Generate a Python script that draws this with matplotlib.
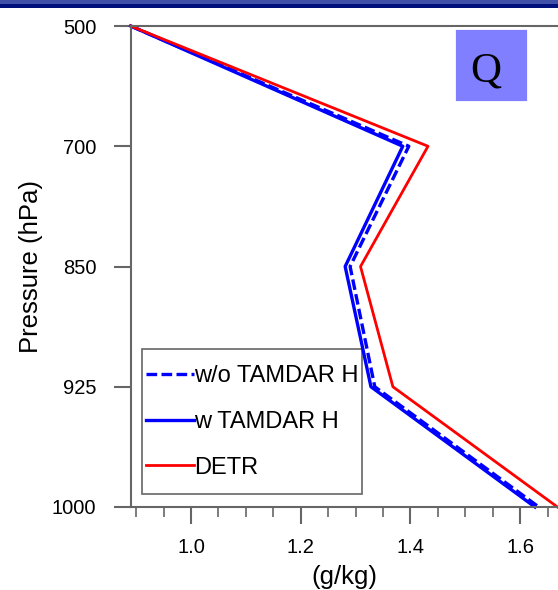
import matplotlib.pyplot as plt
import matplotlib.patches as patches

# pressure levels (hPa), plotted on equally spaced rows
levels = [500, 700, 850, 925, 1000]
level_labels = ["500", "700", "850", "925", "1000"]

# specific humidity profiles (g/kg)
q_wo_tamdar = [0.89, 1.397, 1.290, 1.335, 1.634]
q_w_tamdar = [0.89, 1.386, 1.281, 1.328, 1.627]
q_detr = [0.89, 1.432, 1.309, 1.368, 1.668]

W, H = 558, 590
fig = plt.figure(figsize=(W / 100, H / 100), dpi=100)
plt.rcParams['font.family'] = ['Liberation Sans', 'DejaVu Sans']

# slide banner at the very top
fig.add_artist(patches.Rectangle((0, 1 - 4 / H), 1, 4 / H, transform=fig.transFigure,
                                 color='#4050a8', lw=0))
fig.add_artist(patches.Rectangle((0, 1 - 7.5 / H), 1, 3.5 / H, transform=fig.transFigure,
                                 color='#00107a', lw=0))

left, right, top, bottom = 131, 558, 26, 507
ax = fig.add_axes([left / W, 1 - bottom / H, (right - left) / W, (bottom - top) / H])

rows = list(range(len(levels)))
ax.plot(q_wo_tamdar, rows, color='blue', lw=2.4, ls=(0, (3.2, 1.3)), label='w/o TAMDAR H', clip_on=False)
ax.plot(q_w_tamdar, rows, color='blue', lw=2.4, label='w TAMDAR H', clip_on=False)
ax.plot(q_detr, rows, color='red', lw=2.0, label='DETR', clip_on=False)

ax.set_ylim(4, 0)
ax.set_xlim(0.8906, 1.669)
ax.set_yticks(rows)
ax.set_yticklabels(level_labels)
ax.set_xticks([1.0, 1.2, 1.4, 1.6])
ax.set_xticks([0.9, 0.95, 1.05, 1.1, 1.15, 1.25, 1.3, 1.35, 1.45, 1.5, 1.55, 1.65], minor=True)
ax.set_xticklabels(["1.0", "1.2", "1.4", "1.6"])

spine_col = '#666666'
for s in ['left', 'top', 'bottom']:
    ax.spines[s].set_color(spine_col)
    ax.spines[s].set_linewidth(1.5)
ax.spines['right'].set_visible(False)

ax.tick_params(axis='y', direction='out', length=12, width=1.5, color=spine_col,
               labelsize=14.5, pad=13)
ax.tick_params(axis='x', which='major', direction='out', length=12, width=1.5,
               color=spine_col, labelsize=14.5, pad=10)
ax.tick_params(axis='x', which='minor', direction='out', length=7, width=1.2, color=spine_col)

ax.set_ylabel('Pressure (hPa)', fontsize=18.5, labelpad=6)
ax.set_xlabel('(g/kg)', fontsize=18.5, labelpad=6)

# legend entries without their own frame; the box is drawn separately
leg = ax.legend(loc='center left', bbox_to_anchor=(0.035, 0.1767), fontsize=17,
                handlelength=2.05, handletextpad=0.0, labelspacing=1.0,
                borderpad=0, borderaxespad=0, frameon=False)
ax.add_patch(patches.Rectangle((0.0258, 0.027), 0.515, 0.3015, transform=ax.transAxes,
                               fill=False, edgecolor=spine_col, lw=1.2, zorder=1))

# "Q" label box, sitting on top of the upper spine
fig.add_artist(patches.Rectangle((454 / W, 1 - 102 / H), 74 / W, 74 / H,
                                 transform=fig.transFigure, facecolor='#7f7fff',
                                 edgecolor='white', lw=2))
fig.text(486 / W, 1 - 71 / H, 'Q', fontsize=31, family='Liberation Serif',
         ha='center', va='center', color='black')

fig.savefig('out.png', dpi=100)
